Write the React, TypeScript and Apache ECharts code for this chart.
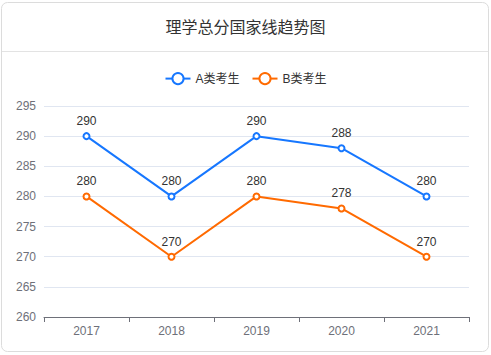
import React, { useEffect, useRef } from "react";
import * as echarts from "echarts";

const title = "理学总分国家线趋势图";
const years = ["2017", "2018", "2019", "2020", "2021"];
const seriesAName = "A类考生";
const seriesBName = "B类考生";
const seriesA = [290, 280, 290, 288, 280];
const seriesB = [280, 270, 280, 278, 270];

export default function App() {
  const ref = useRef<HTMLDivElement>(null);
  useEffect(() => {
    if (!ref.current) return;
    const chart = echarts.init(ref.current, null, { renderer: "svg" });
    chart.setOption({
      animation: false,
      backgroundColor: "#fff",
      textStyle: { fontFamily: "Arial, 'Liberation Sans', 'Noto Sans CJK SC', sans-serif" },
      title: {
        text: title,
        left: "center",
        top: 19,
        padding: 0,
        textStyle: { fontSize: 16, fontWeight: "normal", color: "#333" },
      },
      graphic: [
        {
          type: "rect",
          shape: { x: 1.5, y: 2.5, width: 487, height: 349, r: 6 },
          style: { fill: "none", stroke: "#dcdcdc", lineWidth: 1 },
          silent: true,
          z: -1,
        },
        {
          type: "line",
          shape: { x1: 2, y1: 51.5, x2: 488, y2: 51.5 },
          style: { stroke: "#e3e3e3", lineWidth: 1 },
          silent: true,
        },
      ],
      legend: {
        top: 72,
        left: "center",
        padding: 0,
        itemGap: 12,
        textStyle: { fontSize: 12, color: "#333" },
        data: [seriesAName, seriesBName],
      },
      grid: { left: 44, right: 22, top: 106, bottom: 38, containLabel: false },
      xAxis: {
        type: "category",
        data: years,
        axisLine: { lineStyle: { color: "#6E7079" } },
        axisTick: { show: true, length: 5, lineStyle: { color: "#6E7079" } },
        axisLabel: { color: "#6E7079", fontSize: 12 },
      },
      yAxis: {
        type: "value",
        min: 260,
        max: 295,
        interval: 5,
        axisLabel: { color: "#6E7079", fontSize: 12 },
        splitLine: { lineStyle: { color: "#E0E6F1" } },
      },
      series: [
        {
          name: seriesAName,
          type: "line",
          data: seriesA,
          color: "#1677ff",
          symbol: "emptyCircle",
          symbolSize: 6,
          lineStyle: { width: 2 },
          label: { show: true, position: "top", color: "#333", fontSize: 12 },
        },
        {
          name: seriesBName,
          type: "line",
          data: seriesB,
          color: "#ff6a00",
          symbol: "emptyCircle",
          symbolSize: 6,
          lineStyle: { width: 2 },
          label: { show: true, position: "top", color: "#333", fontSize: 12 },
        },
      ],
    });
    return () => chart.dispose();
  }, []);
  return (
    <div
      ref={ref}
      style={{ position: "fixed", left: 0, top: 0, width: 491, height: 355 }}
    />
  );
}
